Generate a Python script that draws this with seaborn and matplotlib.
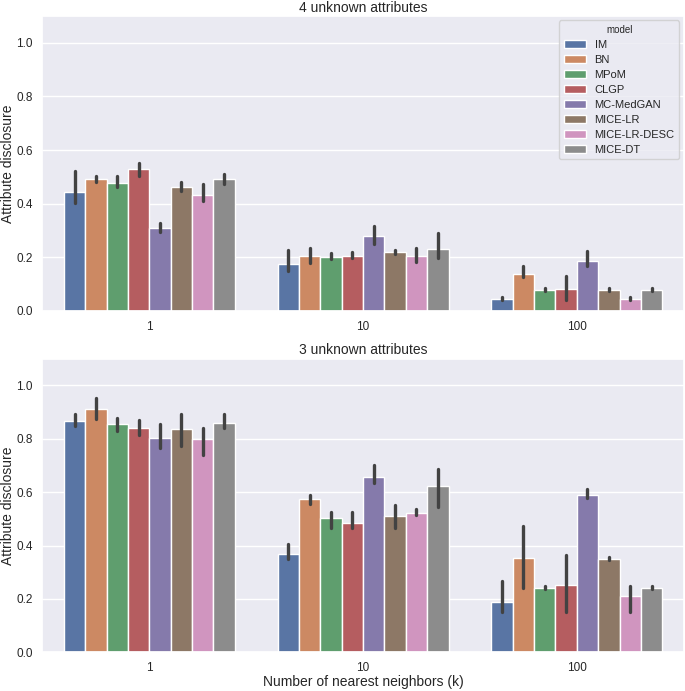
import pandas as pd
import numpy as np
import seaborn as sns
import matplotlib
matplotlib.use("Agg")
import matplotlib.pyplot as plt

models = ["IM", "BN", "MPoM", "CLGP", "MC-MedGAN", "MICE-LR", "MICE-LR-DESC", "MICE-DT"]
neighbors = ["1", "10", "100"]

# 4 unknown attributes: bar height, lower and upper end of the error bar
val_4 = [[0.442, 0.492, 0.477, 0.529, 0.310, 0.463, 0.433, 0.493],
         [0.174, 0.206, 0.201, 0.204, 0.278, 0.220, 0.204, 0.232],
         [0.045, 0.139, 0.079, 0.083, 0.186, 0.079, 0.045, 0.079]]
lo_4 = [[0.401, 0.480, 0.461, 0.504, 0.293, 0.448, 0.410, 0.473],
        [0.149, 0.178, 0.195, 0.196, 0.251, 0.212, 0.181, 0.196],
        [0.041, 0.125, 0.076, 0.041, 0.169, 0.076, 0.041, 0.076]]
hi_4 = [[0.523, 0.503, 0.504, 0.550, 0.329, 0.480, 0.472, 0.510],
        [0.227, 0.236, 0.216, 0.221, 0.317, 0.227, 0.236, 0.289],
        [0.051, 0.169, 0.086, 0.132, 0.223, 0.086, 0.051, 0.086]]

# 3 unknown attributes
val_3 = [[0.866, 0.912, 0.857, 0.841, 0.803, 0.836, 0.800, 0.860],
         [0.368, 0.574, 0.502, 0.484, 0.658, 0.510, 0.522, 0.622],
         [0.190, 0.354, 0.242, 0.251, 0.591, 0.351, 0.212, 0.242]]
lo_3 = [[0.847, 0.872, 0.829, 0.815, 0.764, 0.774, 0.738, 0.840],
        [0.350, 0.557, 0.466, 0.466, 0.633, 0.466, 0.516, 0.543],
        [0.151, 0.241, 0.238, 0.151, 0.579, 0.347, 0.151, 0.238]]
hi_3 = [[0.891, 0.953, 0.877, 0.870, 0.857, 0.893, 0.840, 0.892],
        [0.407, 0.588, 0.524, 0.524, 0.702, 0.552, 0.538, 0.685],
        [0.268, 0.474, 0.247, 0.365, 0.613, 0.357, 0.248, 0.247]]


def to_long(val, lo, hi):
    rows = []
    for i, k in enumerate(neighbors):
        for j, m in enumerate(models):
            for v in (lo[i][j], val[i][j], hi[i][j]):
                rows.append({"k": k, "model": m, "disclosure": v})
    return pd.DataFrame(rows)


sns.set_theme(style="darkgrid")
plt.rcParams['font.family'] = ['Liberation Sans', 'DejaVu Sans']

fig = plt.figure(figsize=(6.85, 6.91), dpi=100)
ax1 = fig.add_axes([0.062, 0.550, 0.936, 0.427])
ax2 = fig.add_axes([0.062, 0.056, 0.936, 0.425])

panels = [(ax1, to_long(val_4, lo_4, hi_4), "4 unknown attributes"),
          (ax2, to_long(val_3, lo_3, hi_3), "3 unknown attributes")]

for ax, df, title in panels:
    sns.barplot(data=df, x="k", y="disclosure", hue="model", hue_order=models,
                order=neighbors, estimator="median", errorbar=("pi", 100),
                palette="deep", edgecolor="white", linewidth=1,
                err_kws={"linewidth": 2.4}, ax=ax)
    ax.set_ylim(0, 1.1)
    ax.set_yticks([0.0, 0.2, 0.4, 0.6, 0.8, 1.0])
    ax.set_title(title, fontsize=10, pad=3)
    ax.set_ylabel("Attribute disclosure", fontsize=10, labelpad=1)
    ax.tick_params(labelsize=8.5, pad=1)

ax1.set_xlabel("")
ax2.set_xlabel("Number of nearest neighbors (k)", fontsize=10, labelpad=1)
ax2.get_legend().remove()
sns.move_legend(ax1, "upper right", title="model", fontsize=8, title_fontsize=7,
                labelspacing=0.45, borderaxespad=0.4)

fig.savefig("out.png", dpi=100)
